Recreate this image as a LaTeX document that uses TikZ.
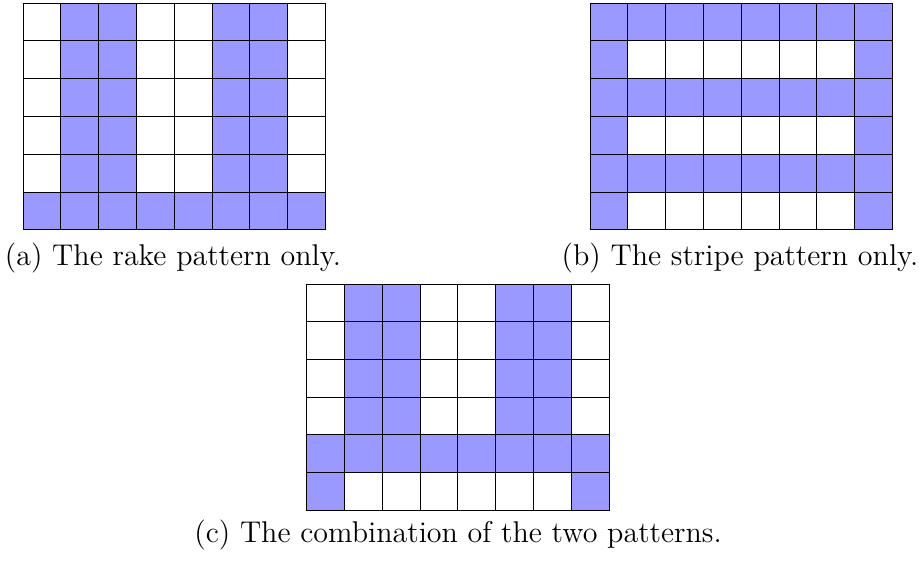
\documentclass[tikz,border=0pt]{standalone}
\definecolor{patblue}{RGB}{153,153,255}
\begin{document}
\begin{tikzpicture}[x=0.4pt,y=-0.4pt,
  cell0/.style={fill=white,draw=black,line width=0.4pt},
  cell1/.style={fill=patblue,draw=black,line width=0.4pt},
  captext/.style={anchor=base,inner sep=0pt,font=\fontsize{12}{14}\selectfont}]
\useasboundingbox (0,0) rectangle (920,563);
% (a) rake pattern
\foreach \row [count=\r] in {{0,1,1,0,0,1,1,0},{0,1,1,0,0,1,1,0},{0,1,1,0,0,1,1,0},{0,1,1,0,0,1,1,0},{0,1,1,0,0,1,1,0},{1,1,1,1,1,1,1,1}}{
  \foreach \v [count=\c] in \row {
    \draw[cell\v] ({23+(\c-1)*37.8},{3+(\r-1)*37.8}) rectangle ++(37.8,37.8);
  }
}
% (b) stripe pattern
\foreach \row [count=\r] in {{1,1,1,1,1,1,1,1},{1,0,0,0,0,0,0,1},{1,1,1,1,1,1,1,1},{1,0,0,0,0,0,0,1},{1,1,1,1,1,1,1,1},{1,0,0,0,0,0,0,1}}{
  \foreach \v [count=\c] in \row {
    \draw[cell\v] ({590+(\c-1)*37.8},{3+(\r-1)*37.8}) rectangle ++(37.8,37.8);
  }
}
% (c) combination
\foreach \row [count=\r] in {{0,1,1,0,0,1,1,0},{0,1,1,0,0,1,1,0},{0,1,1,0,0,1,1,0},{0,1,1,0,0,1,1,0},{1,1,1,1,1,1,1,1},{1,0,0,0,0,0,0,1}}{
  \foreach \v [count=\c] in \row {
    \draw[cell\v] ({306.7+(\c-1)*37.8},{284+(\r-1)*37.7}) rectangle ++(37.8,37.7);
  }
}
\node[captext] (capa) at (173,265) {(a) The rake pattern only.};
\node[captext] (capb) at (740,265) {(b) The stripe pattern only.};
\node[captext] (capc) at (458,542) {(c) The combination of the two patterns.};
\end{tikzpicture}
\end{document}
